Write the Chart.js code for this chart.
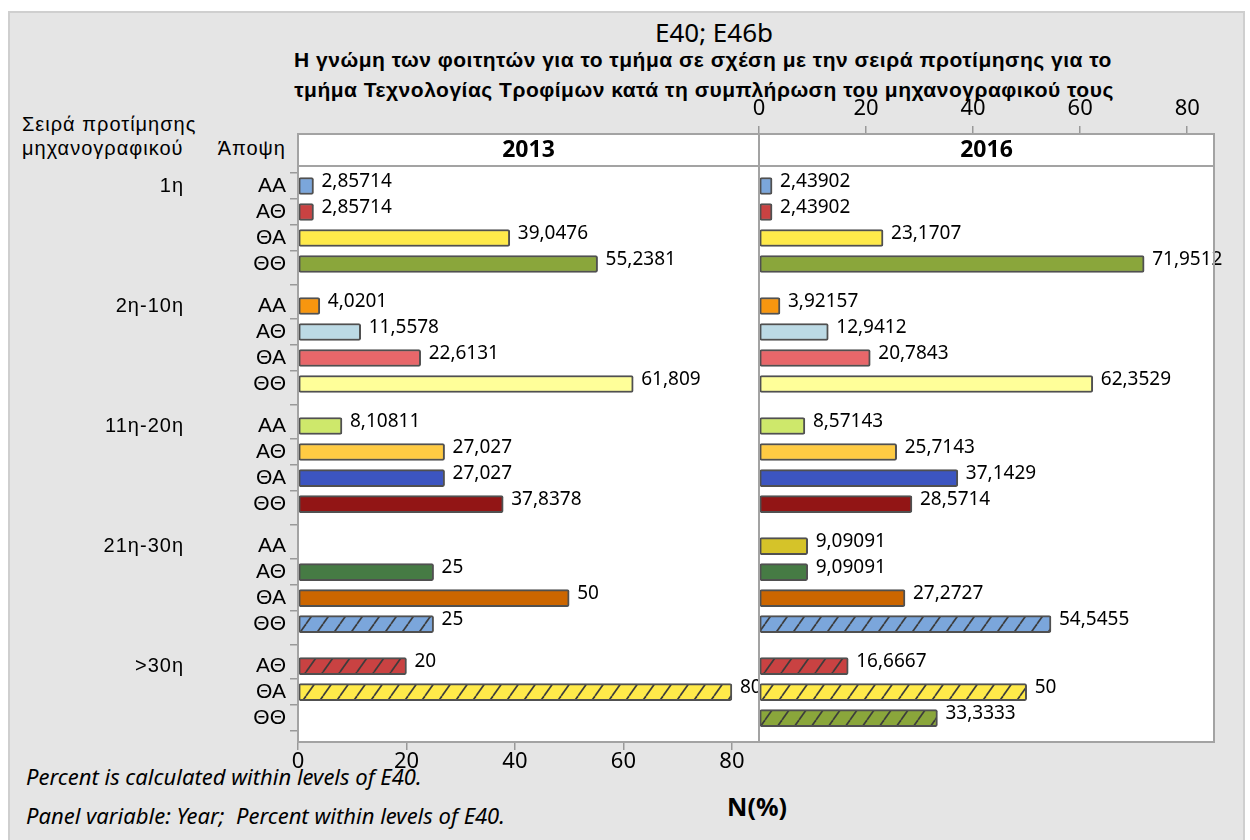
<!DOCTYPE html>
<html>
<head>
<meta charset="utf-8">
<script src="https://cdn.jsdelivr.net/npm/chart.js@4.4.1/dist/chart.umd.min.js"></script>
<style>
  body { margin: 0; background: #fff; }
  #wrap { position: relative; width: 1250px; height: 840px; overflow: hidden; }
  #frame { position: absolute; left: 8px; top: 11px; width: 1233px; height: 840px; background: #e5e5e5; border: 2px solid #cfcfcf; }
  canvas { position: absolute; left: 0; top: 0; }
  .t { position: absolute; white-space: nowrap; color: #000; line-height: 1; }
  .c { transform: translate(-50%, -50%); }
  .l { transform: translate(0, -50%); }
  .r { transform: translate(-100%, -50%); }
  .head { font: 20px 'Liberation Sans'; letter-spacing: 1px; }
  .sub { font: bold 21px 'Liberation Sans'; letter-spacing: 0.5px; }
  .note { font: italic 22px 'Noto Sans'; }
</style>
</head>
<body>
<div id="wrap">
  <div id="frame"></div>
  <div class="t c" style="left:714px;top:32px;font:26px 'Noto Sans';">E40; E46b</div>
  <div class="t c sub" style="left:703px;top:60px;">Η γνώμη των φοιτητών για το τμήμα σε σχέση με την σειρά προτίμησης για το</div>
  <div class="t c sub" style="left:704px;top:90px;">τμήμα Τεχνολογίας Τροφίμων κατά τη συμπλήρωση του μηχανογραφικού τους</div>
  <div class="t l head" style="left:22px;top:124px;">Σειρά προτίμησης</div>
  <div class="t l head" style="left:22px;top:148px;">μηχανογραφικού</div>
  <div class="t r head" style="left:286px;top:148px;">Άποψη</div>
  <div class="t l note" style="left:26px;top:776px;">Percent is calculated within levels of E40.</div>
  <div class="t l note" style="left:26px;top:815px;">Panel variable: Year;&nbsp; Percent within levels of E40.</div>
  <div class="t c" style="left:757px;top:806px;font:bold 25px 'Noto Sans';">N(%)</div>
  <canvas id="c2013" width="1250" height="840"></canvas>
  <canvas id="c2016" width="1250" height="840"></canvas>
</div>
<script>
// DATA
const groups = ["1η", "2η-10η", "11η-20η", "21η-30η", ">30η"];
const opinions = [
  ["ΑΑ", "ΑΘ", "ΘΑ", "ΘΘ"],
  ["ΑΑ", "ΑΘ", "ΘΑ", "ΘΘ"],
  ["ΑΑ", "ΑΘ", "ΘΑ", "ΘΘ"],
  ["ΑΑ", "ΑΘ", "ΘΑ", "ΘΘ"],
  ["ΑΘ", "ΘΑ", "ΘΘ"]
];
const years = ["2013", "2016"];
const pct2013 = [
  2.85714, 2.85714, 39.0476, 55.2381,
  4.0201, 11.5578, 22.6131, 61.809,
  8.10811, 27.027, 27.027, 37.8378,
  null, 25, 50, 25,
  20, 80, null
];
const pct2016 = [
  2.43902, 2.43902, 23.1707, 71.9512,
  3.92157, 12.9412, 20.7843, 62.3529,
  8.57143, 25.7143, 37.1429, 28.5714,
  9.09091, 9.09091, 27.2727, 54.5455,
  16.6667, 50, 33.3333
];
const xTicks = [0, 20, 40, 60, 80];

// STYLE
const barColors = [
  "#7ba6db", "#c94242", "#ffea4a", "#8aa63b",
  "#f7960f", "#bcdae5", "#e8676a", "#ffff99",
  "#cee86b", "#ffcb43", "#3c55c1", "#921515",
  "#d5c329", "#467b44", "#cc6600", "#7ba6db",
  "#c94242", "#ffea4a", "#8aa63b"
];
const hatched = [15, 16, 17, 18];
const GROUP_STEP = 4.615;

// one row per (group, opinion)
const rows = [];
groups.forEach(function (g, gi) {
  opinions[gi].forEach(function (o, oi) {
    rows.push({ group: gi, first: oi === 0, label: o, pos: gi * GROUP_STEP + oi });
  });
});

function hatch(color) {
  const c = document.createElement("canvas");
  c.width = 17;
  c.height = 24;
  const x = c.getContext("2d");
  x.fillStyle = color;
  x.fillRect(0, 0, 17, 24);
  x.strokeStyle = "#3c3c3c";
  x.lineWidth = 1.7;
  [-17, 0, 17].forEach(function (dx) {
    x.beginPath();
    x.moveTo(dx, 24);
    x.lineTo(dx + 17, 0);
    x.stroke();
  });
  return x.createPattern(c, "repeat");
}

const fills = barColors.map(function (c, i) {
  return hatched.includes(i) ? hatch(c) : c;
});

function fmt(v) {
  return String(v).replace(".", ",");
}

function makeChart(id, values, year, isLeft) {
  const panel = {
    id: "panel",
    beforeDraw(chart) {
      const a = chart.chartArea;
      const ctx = chart.ctx;
      ctx.save();
      ctx.fillStyle = "#fff";
      ctx.fillRect(a.left, a.top, a.right - a.left, a.bottom - a.top);
      ctx.restore();
    },
    afterDatasetsDraw(chart) {
      const ctx = chart.ctx;
      const meta = chart.getDatasetMeta(0);
      ctx.save();
      ctx.font = "19px 'Noto Sans'";
      ctx.fillStyle = "#000";
      ctx.textAlign = "left";
      ctx.textBaseline = "middle";
      meta.data.forEach(function (bar, k) {
        if (values[k] === null) return;
        ctx.fillText(fmt(values[k]), bar.x + 8, bar.y - 4);
      });
      ctx.restore();
    },
    afterDraw(chart) {
      const a = chart.chartArea;
      const ctx = chart.ctx;
      const y = chart.scales.y;
      ctx.save();
      ctx.strokeStyle = "#a3a3a3";
      ctx.lineWidth = 2;
      ctx.strokeRect(a.left, a.top, a.right - a.left, a.bottom - a.top);
      ctx.beginPath();
      ctx.moveTo(a.left, 166);
      ctx.lineTo(a.right, 166);
      ctx.stroke();
      ctx.fillStyle = "#000";
      ctx.font = "bold 23px 'Noto Sans'";
      ctx.textAlign = "center";
      ctx.textBaseline = "middle";
      ctx.fillText(year, (a.left + a.right) / 2, 150);
      if (isLeft) {
        ctx.font = "20px 'Liberation Sans'";
        ctx.letterSpacing = "1px";
        ctx.textAlign = "right";
        rows.forEach(function (r) {
          if (r.first) ctx.fillText(groups[r.group], 184, y.getPixelForValue(r.pos));
        });
      }
      ctx.restore();
    }
  };

  return new Chart(document.getElementById(id), {
    type: "bar",
    data: {
      datasets: [
        {
          data: rows.map(function (r, k) {
            return { x: values[k], y: r.pos };
          }),
          backgroundColor: fills,
          borderColor: "#505050",
          borderWidth: 2,
          borderSkipped: false,
          borderRadius: 2,
          barThickness: 17
        }
      ]
    },
    options: {
      indexAxis: "y",
      responsive: false,
      animation: false,
      layout: {
        padding: isLeft
          ? { left: 0, right: 1250 - 759, top: 134, bottom: 0 }
          : { left: 759, right: 1250 - 1214, top: 0, bottom: 840 - 742 }
      },
      plugins: {
        legend: { display: false },
        tooltip: { enabled: false }
      },
      scales: {
        x: {
          type: "linear",
          position: isLeft ? "bottom" : "top",
          min: 0,
          max: 85,
          afterBuildTicks: function (s) {
            s.ticks = xTicks.map(function (v) {
              return { value: v };
            });
          },
          afterFit: function (s) {
            s.height = isLeft ? 840 - 742 : 134;
          },
          grid: { drawOnChartArea: false, drawTicks: true, tickLength: 8, color: "#999", lineWidth: 1.5 },
          border: { display: false },
          ticks: {
            color: "#000",
            padding: isLeft ? 1 : 6,
            maxRotation: 0,
            font: { family: "Noto Sans", size: 22, lineHeight: 1 }
          }
        },
        y: {
          type: "linear",
          reverse: true,
          offset: false,
          display: isLeft,
          min: -2,
          max: 21.38,
          afterBuildTicks: function (s) {
            s.ticks = rows.map(function (r) {
              return { value: r.pos };
            });
          },
          afterFit: function (s) {
            s.width = isLeft ? 298 : 0;
          },
          grid: { drawOnChartArea: false, drawTicks: true, tickLength: 8, color: "#999", lineWidth: 1.5 },
          border: { display: false },
          ticks: {
            autoSkip: false,
            color: "#000",
            padding: 4,
            font: { family: "Liberation Sans", size: 21 },
            callback: function (v, i) {
              return rows[i].label;
            }
          }
        }
      }
    },
    plugins: [panel]
  });
}

makeChart("c2013", pct2013, years[0], true);
makeChart("c2016", pct2016, years[1], false);
</script>
</body>
</html>
